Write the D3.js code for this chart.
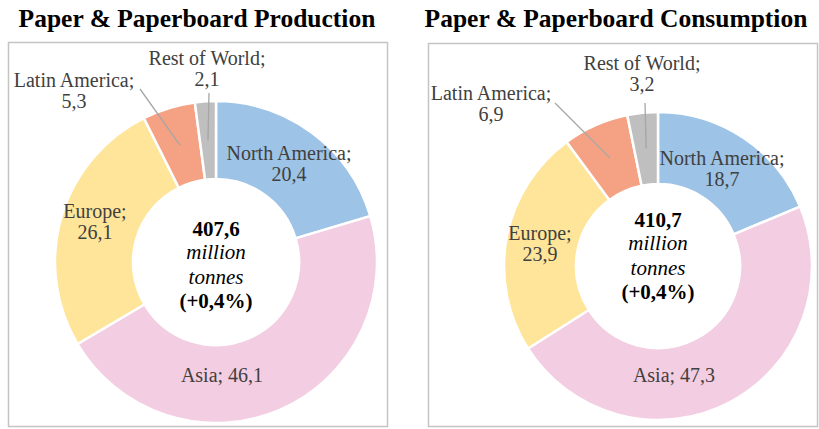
<!doctype html>
<html lang="en">
<head>
  <meta charset="utf-8">
  <title>Paper & Paperboard Production / Consumption</title>
  <script src="https://cdn.jsdelivr.net/npm/d3@7"></script>
  <style>
    body { margin: 0; background: #fff; }
    svg text { font-family: "Liberation Serif", "DejaVu Serif", "Times New Roman", Times, serif; }
  </style>
</head>
<body>
  <svg width="819" height="429"></svg>
  <script>
    // data
    var regions = ["North America", "Asia", "Europe", "Latin America", "Rest of World"];
    var production = [20.4, 46.1, 26.1, 5.3, 2.1];
    var consumption = [18.7, 47.3, 23.9, 6.9, 3.2];
    var titles = ["Paper & Paperboard Production", "Paper & Paperboard Consumption"];
    var totals = ["407,6", "410,7"];
    var changes = ["(+0,4%)", "(+0,4%)"];
    var colors = ["#9dc3e6", "#f3cde1", "#fee59a", "#f4a283", "#bfbfbf"];

    // layout of each panel (label spots are offsets from donut centre)
    var panels = [
      { values: production, frame: [8.5, 42.5, 379, 384], tx: 197, cx: 216, cy: 262, r: 161, r0: 83, midY: -26,
        labels: [[73, -102], [6, 120], [-121, -44], [-142, -175], [-9, -197]],
        leaders: [null, null, null, [-76, -173], [-7, -169]] },
      { values: consumption, frame: [428.5, 43.5, 389, 383], tx: 616, cx: 658, cy: 266, r: 154, r0: 82, midY: -39,
        labels: [[64, -101], [16, 116], [-118, -26], [-167, -166], [-16, -196]],
        leaders: [null, null, null, [-103, -163], [-13, -163]] }
    ];

    var fmt = v => String(v).replace(".", ",");
    var svg = d3.select("svg");
    var pie = d3.pie().sort(null).value(d => d);

    panels.forEach((p, i) => {
      svg.append("text")
        .attr("x", p.tx).attr("y", 27)
        .attr("text-anchor", "middle")
        .style("font-size", "25.5px").style("font-weight", "bold")
        .text(titles[i]);

      svg.append("rect")
        .attr("x", p.frame[0]).attr("y", p.frame[1])
        .attr("width", p.frame[2]).attr("height", p.frame[3])
        .attr("fill", "none").attr("stroke", "#c4c4c4").attr("stroke-width", 1.5);

      var arc = d3.arc().innerRadius(p.r0).outerRadius(p.r);
      var g = svg.append("g").attr("transform", "translate(" + p.cx + "," + p.cy + ")");
      var arcs = pie(p.values);

      g.selectAll("path")
        .data(arcs)
        .enter()
        .append("path")
          .attr("d", arc)
          .attr("fill", (d, j) => colors[j])
          .attr("stroke", "#fff")
          .attr("stroke-width", 2.5);

      // leader lines to slice centroids
      arcs.forEach((d, j) => {
        if (!p.leaders[j]) return;
        var c = arc.centroid(d);
        g.append("line")
          .attr("x1", p.leaders[j][0]).attr("y1", p.leaders[j][1])
          .attr("x2", c[0]).attr("y2", c[1])
          .attr("stroke", "#a6a6a6").attr("stroke-width", 1.3);
      });

      // labels
      arcs.forEach((d, j) => {
        var pos = p.labels[j];
        var t = g.append("text")
          .attr("text-anchor", "middle")
          .style("font-size", "20px").attr("fill", "#404040");
        if (regions[j] === "Asia") {
          t.attr("x", pos[0]).attr("y", pos[1]).text(regions[j] + "; " + fmt(p.values[j]));
        } else {
          t.append("tspan").attr("x", pos[0]).attr("y", pos[1]).text(regions[j] + ";");
          t.append("tspan").attr("x", pos[0]).attr("dy", 21).text(fmt(p.values[j]));
        }
      });

      // centre text
      var lines = [
        { t: totals[i], s: "normal", w: "bold", dy: 0 },
        { t: "million", s: "italic", w: "normal", dy: 23 },
        { t: "tonnes", s: "italic", w: "normal", dy: 48 },
        { t: changes[i], s: "normal", w: "bold", dy: 72 }
      ];
      g.selectAll("text.center")
        .data(lines)
        .enter()
        .append("text")
          .attr("class", "center")
          .attr("x", 0)
          .attr("y", d => p.midY + d.dy)
          .attr("text-anchor", "middle")
          .style("font-size", "21px")
          .style("font-style", d => d.s)
          .style("font-weight", d => d.w)
          .text(d => d.t);
    });
  </script>
</body>
</html>
